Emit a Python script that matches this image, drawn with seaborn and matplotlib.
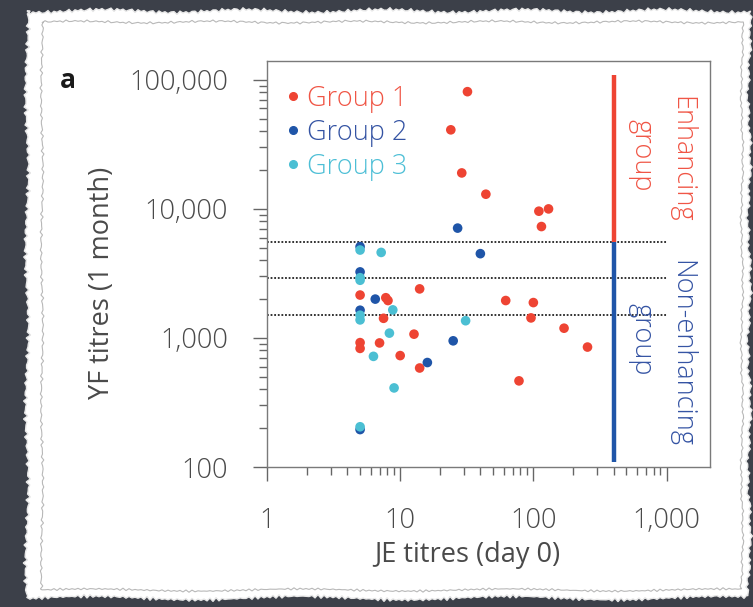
import numpy as np
import pandas as pd
import matplotlib
matplotlib.use("Agg")
import matplotlib.pyplot as plt
import matplotlib.ticker as mticker
from matplotlib.patches import Polygon
from matplotlib.lines import Line2D
import seaborn as sns

# ---------------- data ----------------
group1_je = [32, 24, 29, 44, 110, 130, 115, 14, 5, 7.8, 8.1, 62, 100, 7.5, 96, 170,
             12.7, 5, 7, 5, 255, 10, 14, 78]
group1_yf = [81000, 41000, 19000, 13000, 9600, 10000, 7300, 2400, 2150, 2050, 1950, 1950,
             1880, 1420, 1430, 1190, 1070, 920, 915, 830, 850, 730, 585, 465]

group2_je = [27, 40, 5, 5, 6.5, 5, 25, 16, 5]
group2_yf = [7100, 4500, 5100, 3250, 2000, 1640, 950, 645, 195]

group3_je = [7.2, 5, 5, 5, 8.8, 5, 5, 31, 8.3, 6.3, 9, 5]
group3_yf = [4600, 4800, 2930, 2800, 1650, 1500, 1380, 1360, 1090, 720, 410, 205]

group_names = ["Group 1", "Group 2", "Group 3"]
group_colors = ["#ee4433", "#1f55a8", "#4bbfd3"]
text_colors = ["#f05545", "#3453a3", "#4dbfd6"]

thresholds = [5500, 2900, 1500]
cut_x = 400
enh_range = [5500, 110000]
non_range = [110, 5500]

x_ticks = [1, 10, 100, 1000]
x_ticklabels = ["1", "10", "100", "1,000"]
y_ticks = [100, 1000, 10000, 100000]
y_ticklabels = ["100", "1,000", "10,000", "100,000"]

df = pd.concat([
    pd.DataFrame({"je": group1_je, "yf": group1_yf, "group": group_names[0]}),
    pd.DataFrame({"je": group2_je, "yf": group2_yf, "group": group_names[1]}),
    pd.DataFrame({"je": group3_je, "yf": group3_yf, "group": group_names[2]}),
], ignore_index=True)

# ---------------- style ----------------
sns.set_theme(style="white")
plt.rcParams["font.family"] = ["Open Sans", "DejaVu Sans"]
plt.rcParams["font.weight"] = "light"

W, H = 753, 607
fig = plt.figure(figsize=(W / 100, H / 100), dpi=100, facecolor="#3c4049")


def px(x, y):
    return (x / W, 1 - y / H)


def jagged(x0, x1, y0, y1, amp, step=3.0, phase=0.0):
    xs_top = np.arange(x0, x1, step)
    top = [(x, y0 + amp * (np.sin(0.9 * x + phase) + 0.6 * np.sin(2.7 * x + 1 + phase)
                           + 1.2 * np.sin(0.045 * x + phase))) for x in xs_top]
    ys_r = np.arange(y0, y1, step)
    right = [(x1 + amp * (np.sin(0.8 * y + phase) + 0.7 * np.sin(2.3 * y + phase)
                          + 1.0 * np.sin(0.05 * y)), y) for y in ys_r]
    bottom = [(x, y1 + amp * (np.sin(1.1 * x + phase) + 0.5 * np.sin(2.9 * x)
                              + 1.4 * np.sin(0.03 * x + 2))) for x in xs_top[::-1]]
    left = [(x0 + amp * (np.sin(0.7 * y) + 0.8 * np.sin(3.1 * y + phase)
                         + 1.1 * np.sin(0.04 * y + 1)), y) for y in ys_r[::-1]]
    return [px(a, b) for a, b in top + right + bottom + left]


paper = Polygon(jagged(27, 749, 11, 598, 1.3), closed=True, transform=fig.transFigure,
                facecolor="white", edgecolor="#e8e8e8", lw=1.0, zorder=-3)
fig.patches.append(paper)
inner = Polygon(jagged(42, 742, 22, 590, 0.8, phase=1.3), closed=True,
                transform=fig.transFigure, facecolor="none", edgecolor="#b8b8b8",
                lw=0.8, zorder=-2)
fig.patches.append(inner)

# ---------------- axes ----------------
ax = fig.add_axes([267 / W, 1 - 467 / H, 443 / W, 406 / H])
ax.set_facecolor("white")

sns.scatterplot(data=df, x="je", y="yf", hue="group", palette=group_colors,
                hue_order=group_names, s=48, linewidth=0, edgecolor="none",
                legend=False, ax=ax, zorder=3)

ax.set_xscale("log")
ax.set_yscale("log")
ax.set_xlim(1, 2120)
ax.set_ylim(100, 140000)

ax.hlines(thresholds, 1, 1000, colors="#222222", linestyles=(0, (1, 1)), lw=1.3, zorder=2)
ax.vlines(cut_x, enh_range[0], enh_range[1], colors=group_colors[0], lw=3.2, zorder=2)
ax.vlines(cut_x, non_range[0], non_range[1], colors=group_colors[1], lw=3.2, zorder=2)

ax.xaxis.set_major_locator(mticker.FixedLocator(x_ticks))
ax.xaxis.set_major_formatter(mticker.FixedFormatter(x_ticklabels))
ax.yaxis.set_major_locator(mticker.FixedLocator(y_ticks))
ax.yaxis.set_major_formatter(mticker.FixedFormatter(y_ticklabels))
x_minor = [m * 10 ** e for e in range(0, 3) for m in range(2, 10)]
y_minor = [m * 10 ** e for e in range(2, 5) for m in range(2, 10)]
ax.xaxis.set_minor_locator(mticker.FixedLocator(x_minor))
ax.yaxis.set_minor_locator(mticker.FixedLocator(y_minor))
ax.xaxis.set_minor_formatter(mticker.NullFormatter())
ax.yaxis.set_minor_formatter(mticker.NullFormatter())

for sp in ax.spines.values():
    sp.set_color("#7a7a7a")
    sp.set_linewidth(1.0)
ax.tick_params(axis="both", which="both", direction="out", color="#666666",
               bottom=True, left=True, top=False, right=False)
ax.tick_params(axis="both", which="major", length=10, width=1.0,
               labelsize=19.5, labelcolor="#4a4a4a")
ax.tick_params(axis="both", which="minor", length=5.5, width=1.0)
ax.tick_params(axis="x", which="major", pad=19)
ax.tick_params(axis="y", which="major", pad=18)

ax.set_xlabel("JE titres (day 0)", fontsize=19.5, color="#4a4a4a")
ax.set_ylabel("YF titres (1 month)", fontsize=19.5, color="#4a4a4a")
ax.xaxis.set_label_coords((467 - 267) / 443, (467 - 541) / 406)
ax.yaxis.set_label_coords((116 - 267) / 443, (467 - 283) / 406)

# legend
handles = [Line2D([], [], marker="o", ls="", color=c, markersize=5.5) for c in group_colors]
leg = ax.legend(handles, group_names, loc="upper left", bbox_to_anchor=(0.016, 0.968),
                frameon=False, handletextpad=0.22, labelspacing=0.22, fontsize=19.5,
                borderaxespad=0.0, handlelength=0.6)
for t, c in zip(leg.get_texts(), text_colors):
    t.set_color(c)

# side labels
ax.text((681 - 267) / 443, (467 - 159) / 406, "Enhancing", rotation=270, ha="center",
        va="center", fontsize=19.5, color=text_colors[0], transform=ax.transAxes)
ax.text((641 - 267) / 443, (467 - 155) / 406, "group", rotation=270, ha="center",
        va="center", fontsize=19.5, color=text_colors[0], transform=ax.transAxes)
ax.text((681 - 267) / 443, (467 - 354) / 406, "Non-enhancing", rotation=270, ha="center",
        va="center", fontsize=19.5, color=text_colors[1], transform=ax.transAxes)
ax.text((641 - 267) / 443, (467 - 339) / 406, "group", rotation=270, ha="center",
        va="center", fontsize=19.5, color=text_colors[1], transform=ax.transAxes)

fig.text(60 / W, 1 - 88 / H, "a", fontsize=19, fontweight="bold", color="#1a1a1a",
         ha="left", va="baseline")

fig.savefig("out.png", dpi=100, facecolor=fig.get_facecolor())
